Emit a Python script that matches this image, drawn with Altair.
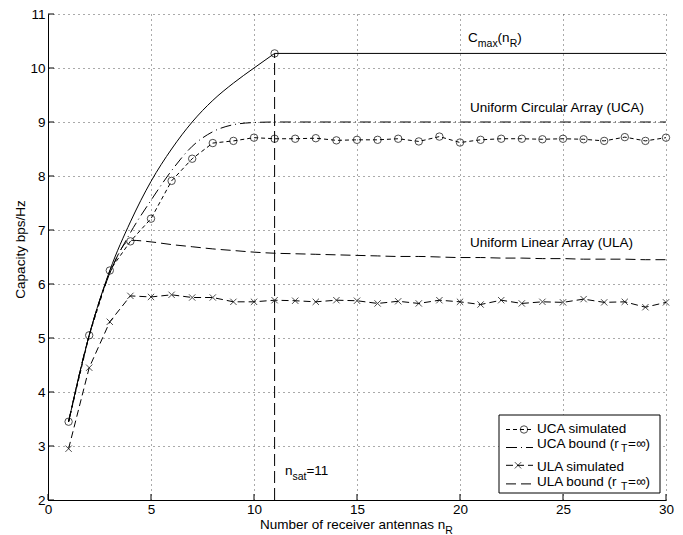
import altair as alt
import pandas as pd

FONT = "Liberation Sans"
FS = 13.5
SUB = 10.5

# ---------------- data ----------------
n_vals = list(range(1, 31))
uca_sim = [3.45, 5.05, 6.25, 6.79, 7.21, 7.91, 8.32, 8.61, 8.65, 8.71,
           8.69, 8.69, 8.70, 8.66, 8.67, 8.67, 8.69, 8.64, 8.73, 8.62,
           8.67, 8.69, 8.69, 8.68, 8.69, 8.68, 8.65, 8.72, 8.65, 8.71]
ula_sim = [2.95, 4.45, 5.30, 5.78, 5.76, 5.80, 5.75, 5.75, 5.67, 5.67,
           5.70, 5.69, 5.67, 5.70, 5.69, 5.64, 5.68, 5.64, 5.70, 5.67,
           5.62, 5.70, 5.64, 5.67, 5.66, 5.72, 5.66, 5.67, 5.57, 5.66]
uca_bound = [3.45, 5.05, 6.20, 6.95, 7.55, 8.10, 8.55, 8.82, 8.95, 8.99,
             9.00, 9.00, 9.00, 9.00, 9.00, 9.00, 9.00, 9.00, 9.00, 9.00,
             9.00, 9.00, 9.00, 9.00, 9.00, 9.00, 9.00, 9.00, 9.00, 9.00]
ula_bound = [3.45, 5.05, 6.20, 6.81, 6.78, 6.73, 6.69, 6.65, 6.62, 6.59,
             6.57, 6.56, 6.55, 6.54, 6.53, 6.52, 6.51, 6.51, 6.50, 6.49,
             6.49, 6.48, 6.48, 6.47, 6.47, 6.46, 6.46, 6.46, 6.45, 6.45]
cmax_n = [1, 2, 3, 4, 5, 6, 7, 8, 9, 10, 11]
cmax_vals = [3.45, 5.05, 6.25, 7.15, 7.90, 8.50, 9.00, 9.40, 9.72, 10.00, 10.27]
cmax_flat_n = [11, 30]
cmax_flat_vals = [10.27, 10.27]
n_sat = 11
c_sat = 10.27

x_ticks = [0, 5, 10, 15, 20, 25, 30]
y_ticks = [2, 3, 4, 5, 6, 7, 8, 9, 10, 11]

legend_labels = ["UCA simulated", "UCA bound (r", "ULA simulated", "ULA bound (r"]

# ---------------- chart ----------------
W, H = 618, 486
xs = alt.Scale(domain=[0, 30], nice=False, zero=False)
ys = alt.Scale(domain=[2, 11], nice=False, zero=False)

df = pd.DataFrame({"n": n_vals, "uca_sim": uca_sim, "ula_sim": ula_sim,
                   "uca_bound": uca_bound, "ula_bound": ula_bound})
df_cmax = pd.DataFrame({"n": cmax_n, "v": cmax_vals})
df_flat = pd.DataFrame({"n": cmax_flat_n, "v": cmax_flat_vals})
df_sat = pd.DataFrame({"n": [n_sat], "v": [c_sat], "v0": [2]})
one = pd.DataFrame({"a": [0]})

axis_common = dict(grid=True, gridDash=[1, 4], gridColor="#555555", gridWidth=1,
                   ticks=False, domainColor="black", domainWidth=1,
                   labelFont=FONT, labelFontSize=FS, labelColor="black",
                   labelFlush=False, labelOverlap=False, title=None, format="d")
AX = alt.Axis(values=x_ticks, labelPadding=2, **axis_common)
AY = alt.Axis(values=y_ticks, labelPadding=3, **axis_common)

X = lambda f: alt.X(f, type="quantitative", scale=xs, axis=AX)
Y = lambda f: alt.Y(f, type="quantitative", scale=ys, axis=AY)


def line(data, col, dash=None, interp="linear"):
    kw = dict(color="black", strokeWidth=1, interpolate=interp)
    if dash:
        kw["strokeDash"] = dash
    return alt.Chart(data).mark_line(**kw).encode(x=X("n"), y=Y(col))


XSHAPE = "M-1,-1L1,1M-1,1L1,-1"

layers = []
# inward ticks
layers.append(alt.Chart(pd.DataFrame({"t": x_ticks})).mark_rule(color="black").encode(
    x=X("t"), y=alt.value(H), y2=alt.value(H - 6)))
layers.append(alt.Chart(pd.DataFrame({"t": y_ticks})).mark_rule(color="black").encode(
    y=Y("t"), x=alt.value(0), x2=alt.value(6)))

layers += [
    line(df_cmax, "v", None, "monotone"),
    line(df_flat, "v"),
    line(df, "uca_bound", [11, 4, 1, 4], "monotone"),
    line(df, "ula_bound", [10, 5], "monotone"),
    line(df, "uca_sim", [4, 3]),
    line(df, "ula_sim", [7, 4]),
    alt.Chart(df).mark_point(shape="circle", size=55, color="black", strokeWidth=1,
                             filled=False).encode(x=X("n"), y=Y("uca_sim")),
    alt.Chart(df).mark_point(shape=XSHAPE, size=40, color="black", strokeWidth=1,
                             filled=False).encode(x=X("n"), y=Y("ula_sim")),
    alt.Chart(df_sat).mark_rule(color="black", strokeWidth=1, strokeDash=[12, 5]).encode(
        x=X("n"), y=Y("v0"), y2=alt.Y2("v")),
    alt.Chart(df_sat).mark_point(shape="circle", size=55, color="black", strokeWidth=1,
                                 filled=False).encode(x=X("n"), y=Y("v")),
]


def dtext(s, x, y, size=FS, dx=0, dy=0):
    d = pd.DataFrame({"x": [x], "y": [y], "t": [s]})
    return alt.Chart(d).mark_text(align="left", baseline="alphabetic", font=FONT,
                                  fontSize=size, color="black", dx=dx, dy=dy).encode(
        x=X("x"), y=Y("y"), text="t:N")


def ptext(s, x, y, size=FS, angle=0, align="left"):
    d = pd.DataFrame({"t": [s]})
    kw = dict(align=align, baseline="alphabetic", font=FONT, fontSize=size, color="black")
    if angle:
        kw["angle"] = angle
    return alt.Chart(d).mark_text(**kw).encode(x=alt.value(x), y=alt.value(y), text="t:N")


# annotations in data space
layers += [
    dtext("C", 20.39, 10.48),
    dtext("max", 20.39, 10.48, SUB, dx=9.8, dy=4.5),
    dtext("(n", 20.39, 10.48, dx=29.4),
    dtext("R", 20.39, 10.48, SUB, dx=41.6, dy=4.5),
    dtext(")", 20.39, 10.48, dx=49.3),
    dtext("Uniform Circular Array (UCA)", 20.49, 9.19),
    dtext("Uniform Linear Array (ULA)", 20.49, 6.69),
    dtext("n", 11.5, 2.457),
    dtext("sat", 11.5, 2.457, SUB, dx=7.5, dy=4.5),
    dtext("=11", 11.5, 2.457, dx=21.5),
]

# axis titles
layers += [
    ptext("Number of receiver antennas n", 212, 515),
    ptext("R", 212 + 185.3, 519.5, SUB),
    ptext("Capacity bps/Hz", -23, 235.5, FS, angle=270, align="center"),
]

# legend box
LX0, LX1, LY0, LY1 = 451, 612, 401, 479
layers.append(alt.Chart(one).mark_rect(fill="white", stroke="black", strokeWidth=1).encode(
    x=alt.value(LX0), x2=alt.value(LX1), y=alt.value(LY0), y2=alt.value(LY1)))

row_base = [419.0, 433.5, 457.3, 471.5]
row_line = [415.5, 433.5, 451.3, 469.9]
dashes = [[4, 3], [11, 4, 1, 4], [7, 4], [10, 5]]
TX = 489
for i in range(4):
    layers.append(alt.Chart(one).mark_rule(color="black", strokeWidth=1, strokeDash=dashes[i]).encode(
        x=alt.value(458), x2=alt.value(485), y=alt.value(row_line[i])))
    layers.append(ptext(legend_labels[i], TX, row_base[i]))
    if i in (1, 3):
        layers.append(ptext("T", TX + 84, row_base[i] + 4, SUB))
        layers.append(ptext("=\u221e)", TX + 91, row_base[i]))

layers.append(alt.Chart(one).mark_point(shape="circle", size=55, color="black", strokeWidth=1,
                                        filled=False).encode(x=alt.value(476), y=alt.value(row_line[0])))
layers.append(alt.Chart(one).mark_point(shape=XSHAPE, size=40, color="black", strokeWidth=1,
                                        filled=False).encode(x=alt.value(470), y=alt.value(row_line[2])))

chart = alt.layer(*layers).properties(
    width=W, height=H,
    autosize=alt.AutoSizeParams(type="none"),
    padding={"left": 40, "top": 6, "right": 9, "bottom": 34},
    background="white",
).configure_view(stroke=None)

chart.save("out.html", embed_options={"renderer": "svg", "actions": False})
